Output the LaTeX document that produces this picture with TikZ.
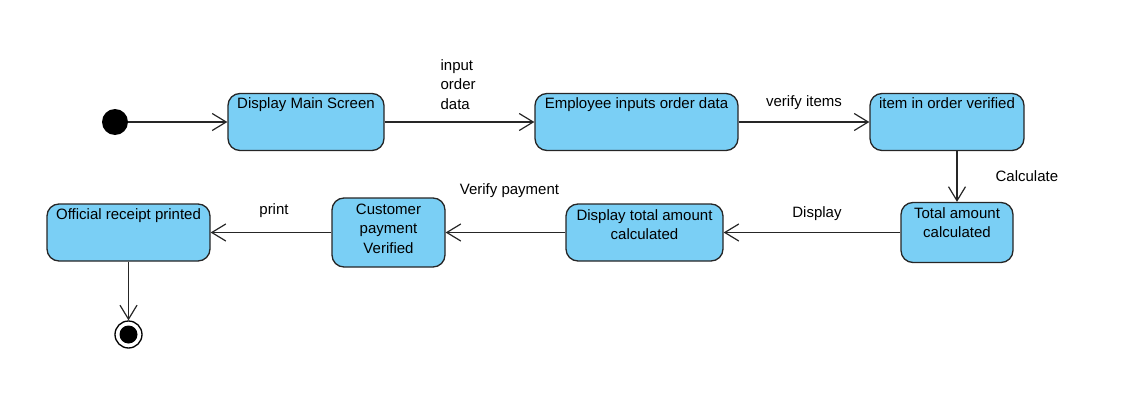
\documentclass[tikz,border=0pt]{standalone}
\usepackage{fontspec}
\setmainfont{Liberation Sans}
\usetikzlibrary{arrows.meta,positioning}
\definecolor{stateblue}{RGB}{122,207,245}
\begin{document}
\begin{tikzpicture}[x=1pt,y=1pt,>={Straight Barb[length=14pt,width=17pt]},on grid,font=\fontsize{15}{19.5}\selectfont]
  \useasboundingbox (0,0) rectangle (1122,-420);
  \tikzset{mystate/.style={draw=black!85,line width=1.3pt,fill=stateblue,rounded corners=12pt,align=center,inner sep=3pt}}
  \tikzset{oneline/.style={text height=12pt,text depth=39pt}}
  \node[circle,fill=black,minimum size=26pt,inner sep=0pt] (start) at (115,-122) {};
  \node[mystate,oneline,minimum width=156pt]     (main)    [right=191pt of start]   {Display Main Screen};
  \node[mystate,oneline,minimum width=203pt]     (input)   [right=330.5pt of main]  {Employee inputs order data};
  \node[mystate,oneline,minimum width=154pt]     (checked) [right=310.5pt of input] {item in order verified};
  \node[mystate,text depth=20pt,minimum width=112pt,minimum height=60pt] (total)   [below right=110.5pt and 10pt of checked] {Total amount\\calculated};
  \node[mystate,text depth=16pt,minimum width=157pt,minimum height=57pt] (show)    [left=312.5pt of total]  {Display total amount\\calculated};
  \node[mystate,text depth=8pt,minimum width=113pt,minimum height=69pt]  (payment) [left=256pt of show]     {Customer\\payment\\Verified};
  \node[mystate,oneline,minimum width=163pt]     (receipt) [left=260pt of payment]  {Official receipt printed};
  \node[circle,draw=black,line width=1.3pt,fill=white,minimum size=27pt,inner sep=0pt,
        path picture={\fill[black] (path picture bounding box.center) circle (9pt);}] (stop) [below=102pt of receipt] {};

  \tikzset{myarrow/.style={->,line width=1.2pt,draw=black!85}}
  \tikzset{mylabel/.style={inner sep=0pt}}
  \path (start)   edge [myarrow] (main)
        (main)    edge [myarrow] node[mylabel,pos=0.37,anchor=south west,yshift=12pt,align=left] {input\\order\\data} (input)
        (input)   edge [myarrow] node[mylabel,midway,above=12pt] {verify items} (checked)
        (checked.south -| total) edge [myarrow] node[mylabel,midway,right=38pt] {Calculate} (total)
        (total)   edge [myarrow] node[mylabel,midway,above=11pt,xshift=5pt] {Display} (show)
        (show)    edge [myarrow] node[mylabel,midway,above=34pt,xshift=4pt] {Verify payment} (payment)
        (payment) edge [myarrow] node[mylabel,midway,above=14pt,xshift=3pt] {print} (receipt)
        (receipt) edge [myarrow] (stop);
\end{tikzpicture}
\end{document}
